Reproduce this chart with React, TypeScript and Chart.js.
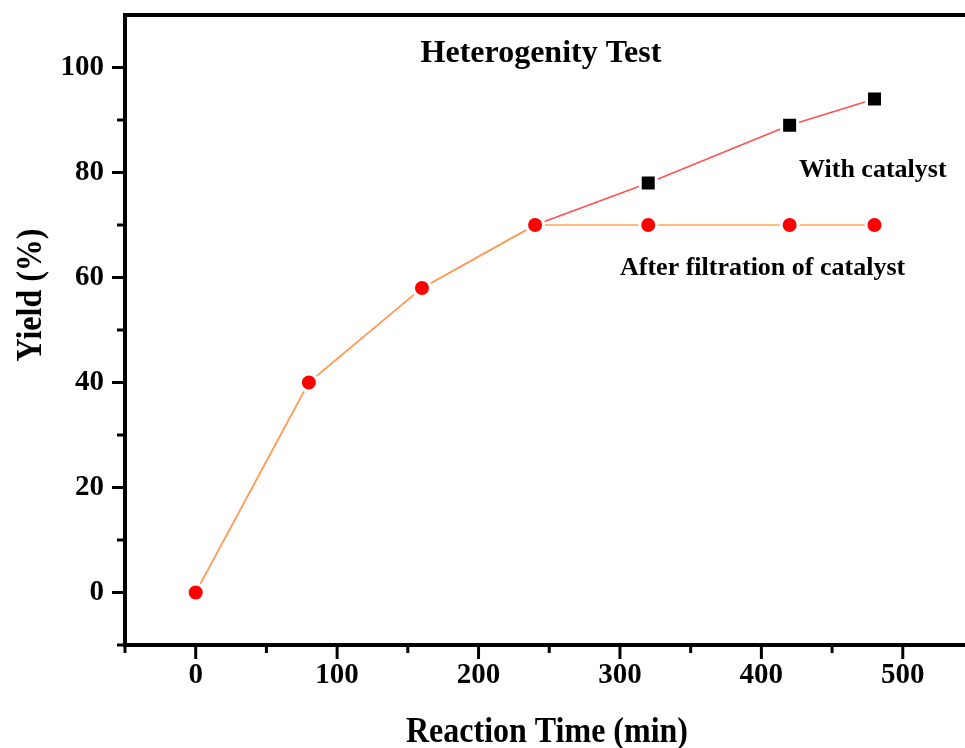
import React, { useEffect, useRef } from "react";
import { Chart, registerables } from "chart.js";

Chart.register(...registerables);

const reactionTime = [0, 80, 160, 240, 320, 420, 480];
const yieldWithCatalyst = [0, 40, 58, 70, 78, 89, 94];
const yieldAfterFiltration = [0, 40, 58, 70, 70, 70, 70];
const xMajorTicks = [0, 100, 200, 300, 400, 500];
const xMinorTicks = [-50, 50, 150, 250, 350, 450];
const yMajorTicks = [0, 20, 40, 60, 80, 100];
const yMinorTicks = [-10, 10, 30, 50, 70, 90];
const chartTitle = "Heterogenity Test";
const xAxisTitle = "Reaction Time (min)";
const yAxisTitle = "Yield (%)";
const labelWithCatalyst = "With catalyst";
const labelAfterFiltration = "After filtration of catalyst";

const FONT = '"Liberation Serif", "Times New Roman", serif';

const decorPlugin = {
  id: "decor",
  afterDraw(chart: any) {
    const { ctx, chartArea, scales } = chart;
    const xs = scales.x;
    const ys = scales.y;
    const L = chartArea.left;
    const B = chartArea.bottom;
    ctx.save();
    ctx.strokeStyle = "#000";
    ctx.lineCap = "butt";
    const seg = (x1: number, y1: number, x2: number, y2: number) => {
      ctx.beginPath();
      ctx.moveTo(x1, y1);
      ctx.lineTo(x2, y2);
      ctx.stroke();
    };
    ctx.lineWidth = 3;
    yMajorTicks.forEach((v) => {
      const p = ys.getPixelForValue(v);
      seg(L - 13, p, L, p);
    });
    yMinorTicks.forEach((v) => {
      const p = ys.getPixelForValue(v);
      seg(L - 8, p, L, p);
    });
    xMajorTicks.forEach((v) => {
      const p = xs.getPixelForValue(v);
      seg(p, B, p, B + 14);
    });
    xMinorTicks.forEach((v) => {
      const p = xs.getPixelForValue(v);
      seg(p, B, p, B + 8);
    });
    // top frame line
    ctx.lineWidth = 4;
    seg(L - 2, chartArea.top, chartArea.right, chartArea.top);

    ctx.fillStyle = "#000";
    ctx.textBaseline = "alphabetic";
    // title
    ctx.font = `bold 32px ${FONT}`;
    ctx.textAlign = "center";
    ctx.fillText(chartTitle, 541, 62);
    // annotations
    ctx.font = `bold 26px ${FONT}`;
    ctx.textAlign = "left";
    ctx.fillText(labelWithCatalyst, 799, 177);
    ctx.fillText(labelAfterFiltration, 620, 275);
    // x axis title
    ctx.font = `bold 32px ${FONT}`;
    ctx.textAlign = "center";
    ctx.save();
    ctx.translate(547, 742);
    ctx.scale(1, 1.1);
    ctx.fillText(xAxisTitle, 0, 0);
    ctx.restore();
    // y axis title
    ctx.save();
    ctx.translate(41, 295);
    ctx.rotate(-Math.PI / 2);
    ctx.scale(1, 1.15);
    ctx.fillText(yAxisTitle, 0, 0);
    ctx.restore();
    ctx.restore();
  },
};

const zeroPad = (s: any) => {
  s.paddingTop = 0;
  s.paddingBottom = 0;
  s.paddingLeft = 0;
  s.paddingRight = 0;
};

export default function App() {
  const canvasRef = useRef<HTMLCanvasElement | null>(null);

  useEffect(() => {
    document.body.style.margin = "0";
    const canvas = canvasRef.current;
    if (!canvas) return;
    const chart = new Chart(canvas, {
      type: "line",
      data: {
        datasets: [
          {
            label: labelAfterFiltration,
            data: reactionTime.map((t, i) => ({ x: t, y: yieldAfterFiltration[i] })),
            borderColor: "#FFA64D",
            borderWidth: 1.5,
            pointStyle: "circle",
            pointRadius: 8.5,
            pointBackgroundColor: "#FF0000",
            pointBorderColor: "#FFFFFF",
            pointBorderWidth: 3,
            tension: 0,
            fill: false,
          },
          {
            label: labelWithCatalyst,
            data: reactionTime.map((t, i) => ({ x: t, y: yieldWithCatalyst[i] })),
            borderColor: "#FF5050",
            borderWidth: 1.5,
            pointStyle: "rect",
            pointRadius: 11.3,
            pointBackgroundColor: "#000000",
            pointBorderColor: "#FFFFFF",
            pointBorderWidth: 3,
            tension: 0,
            fill: false,
          },
        ],
      },
      options: {
        responsive: false,
        animation: false,
        layout: { autoPadding: false, padding: { top: 15, right: 0, left: 0, bottom: 0 } },
        plugins: {
          legend: { display: false },
          title: { display: false },
          tooltip: { enabled: false },
        },
        scales: {
          x: {
            type: "linear",
            min: -50,
            max: 544,
            grid: { display: false, drawTicks: false },
            border: { display: true, color: "#000", width: 4 },
            afterBuildTicks: (s: any) => {
              s.ticks = xMajorTicks.map((v) => ({ value: v }));
            },
            afterFit: (s: any) => {
              s.height = 103;
              zeroPad(s);
            },
            ticks: {
              autoSkip: false,
              maxRotation: 0,
              padding: 13,
              color: "#000",
              font: { family: FONT, size: 29, weight: "bold" },
            },
          },
          y: {
            type: "linear",
            min: -10,
            max: 110,
            grid: { display: false, drawTicks: false },
            border: { display: true, color: "#000", width: 4 },
            afterBuildTicks: (s: any) => {
              s.ticks = yMajorTicks.map((v) => ({ value: v }));
            },
            afterFit: (s: any) => {
              s.width = 125;
              zeroPad(s);
            },
            ticks: {
              autoSkip: false,
              padding: 21,
              color: "#000",
              font: { family: FONT, size: 29, weight: "bold" },
            },
          },
        },
      },
      plugins: [decorPlugin],
    } as any);
    return () => chart.destroy();
  }, []);

  return (
    <div style={{ width: 965, height: 748, background: "#fff" }}>
      <canvas ref={canvasRef} width={965} height={748} style={{ display: "block", width: 965, height: 748 }} />
    </div>
  );
}
